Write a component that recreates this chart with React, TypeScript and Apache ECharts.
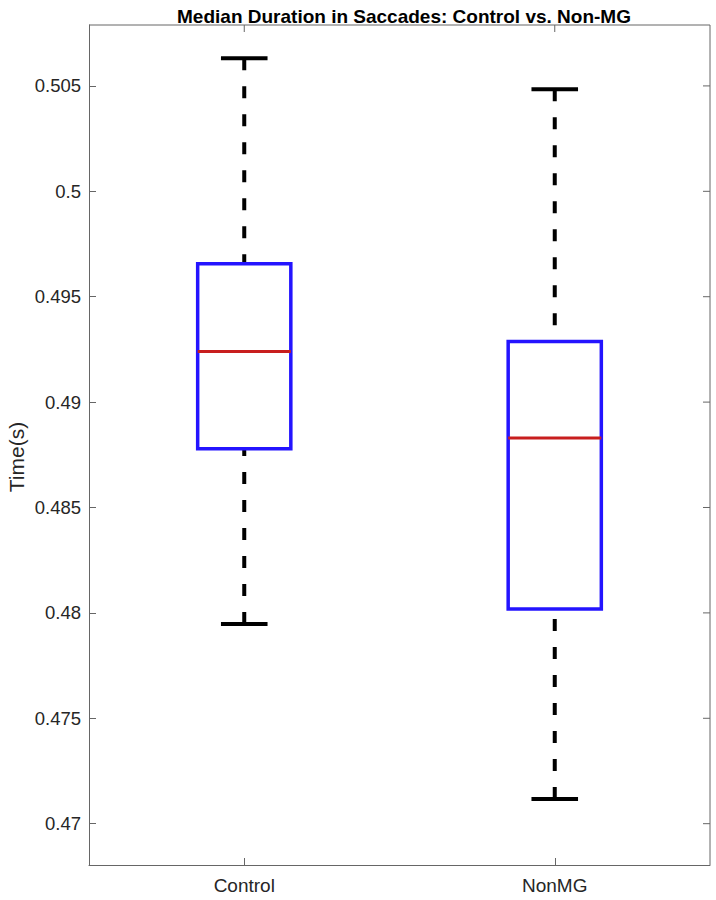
import React, { useEffect, useRef } from "react";
import * as echarts from "echarts";

// Box statistics per group: [lower whisker, Q1, median, Q3, upper whisker]
const categories = ["Control", "NonMG"];
const lowerWhisker = [0.47947, 0.47117];
const q1 = [0.48779, 0.48018];
const median = [0.4924, 0.4883];
const q3 = [0.49656, 0.49287];
const upperWhisker = [0.50631, 0.50484];

const yTicks = [0.47, 0.475, 0.48, 0.485, 0.49, 0.495, 0.5, 0.505];
const yMin = 0.46804;
const yMax = 0.50789;

const FONT = "Arial, 'Liberation Sans', Helvetica, sans-serif";
const AXIS_GREY = "#666666";
const TEXT_GREY = "#262626";

export default function App() {
  const ref = useRef<HTMLDivElement>(null);

  useEffect(() => {
    if (!ref.current) return;
    const chart = echarts.init(ref.current, null, { renderer: "svg" });

    const data = categories.map((_, i) => [
      i,
      lowerWhisker[i],
      q1[i],
      median[i],
      q3[i],
      upperWhisker[i],
    ]);

    const renderItem = (params: any, api: any) => {
      const idx = api.value(0);
      const lo = api.coord([idx, api.value(1)]);
      const b1 = api.coord([idx, api.value(2)]);
      const md = api.coord([idx, api.value(3)]);
      const b3 = api.coord([idx, api.value(4)]);
      const hi = api.coord([idx, api.value(5)]);
      const band = api.size([1, 0])[0];
      const cx = lo[0];
      const boxHalf = band * 0.15;
      const capHalf = band * 0.075;
      const whiskerStyle = {
        stroke: "#000",
        lineWidth: 4,
        lineDash: [12, 16],
      };
      const capStyle = { stroke: "#000", lineWidth: 4 };
      return {
        type: "group",
        children: [
          {
            type: "line",
            shape: { x1: cx, y1: hi[1], x2: cx, y2: b3[1] },
            style: whiskerStyle,
          },
          {
            type: "line",
            shape: { x1: cx, y1: lo[1], x2: cx, y2: b1[1] },
            style: whiskerStyle,
          },
          {
            type: "line",
            shape: { x1: cx - capHalf, y1: hi[1], x2: cx + capHalf, y2: hi[1] },
            style: capStyle,
          },
          {
            type: "line",
            shape: { x1: cx - capHalf, y1: lo[1], x2: cx + capHalf, y2: lo[1] },
            style: capStyle,
          },
          {
            type: "rect",
            shape: {
              x: cx - boxHalf,
              y: b3[1],
              width: boxHalf * 2,
              height: b1[1] - b3[1],
            },
            style: { fill: "none", stroke: "#2414ff", lineWidth: 3.5 },
          },
          {
            type: "line",
            shape: { x1: cx - boxHalf, y1: md[1], x2: cx + boxHalf, y2: md[1] },
            style: { stroke: "#c81e1e", lineWidth: 3 },
          },
        ],
      };
    };

    chart.setOption({
      animation: false,
      backgroundColor: "#ffffff",
      title: {
        text: "Median Duration in Saccades: Control vs. Non-MG",
        left: 399,
        top: 2,
        textAlign: "center",
        textStyle: {
          fontFamily: FONT,
          fontSize: 19,
          fontWeight: "bold",
          color: "#000",
        },
      },
      grid: { left: 89, right: 6, top: 25, bottom: 35, containLabel: false },
      xAxis: {
        type: "category",
        data: categories,
        boundaryGap: true,
        axisLine: { show: true, lineStyle: { color: AXIS_GREY, width: 1 } },
        axisTick: {
          show: true,
          alignWithLabel: true,
          inside: true,
          length: 7,
          lineStyle: { color: AXIS_GREY },
        },
        axisLabel: {
          fontFamily: FONT,
          fontSize: 19,
          color: TEXT_GREY,
          margin: 11,
        },
        splitLine: { show: false },
      },
      yAxis: {
        type: "value",
        min: yMin,
        max: yMax,
        axisLine: { show: true, lineStyle: { color: AXIS_GREY, width: 1 } },
        axisTick: {
          show: true,
          inside: true,
          length: 7,
          lineStyle: { color: AXIS_GREY },
          customValues: yTicks,
        },
        axisLabel: {
          fontFamily: FONT,
          fontSize: 18.5,
          color: TEXT_GREY,
          margin: 8,
          customValues: yTicks,
          formatter: (v: number) => String(parseFloat(v.toFixed(4))),
        },
        splitLine: { show: false },
      },
      series: [
        {
          type: "custom",
          renderItem,
          data,
          encode: { x: 0, y: [1, 2, 3, 4, 5] },
          clip: false,
          z: 5,
        },
      ],
    });

    // Top and right edges of the axes box, with mirrored inward ticks
    const leftPx = 89;
    const rightPx = chart.getWidth() - 6;
    const topPx = chart.convertToPixel({ yAxisIndex: 0 }, yMax) as number;
    const botPx = chart.convertToPixel({ yAxisIndex: 0 }, yMin) as number;
    const edge = { stroke: AXIS_GREY, lineWidth: 1 };
    const yTickEls: any[] = yTicks.map((t) => {
      const py = chart.convertToPixel({ yAxisIndex: 0 }, t) as number;
      return {
        type: "line",
        shape: { x1: rightPx - 7, y1: py, x2: rightPx, y2: py },
        style: edge,
      };
    });
    const xTickEls: any[] = categories.map((_, i) => {
      const px = chart.convertToPixel({ xAxisIndex: 0 }, i) as number;
      return {
        type: "line",
        shape: { x1: px, y1: topPx, x2: px, y2: topPx + 7 },
        style: edge,
      };
    });
    chart.setOption({
      graphic: [
        {
          type: "line",
          shape: { x1: rightPx, y1: topPx, x2: rightPx, y2: botPx },
          style: edge,
        },
        {
          type: "line",
          shape: { x1: leftPx, y1: topPx, x2: rightPx, y2: topPx },
          style: edge,
        },
        ...yTickEls,
        ...xTickEls,
        {
          type: "text",
          x: 16,
          y: 457,
          rotation: Math.PI / 2,
          style: {
            text: "Time(s)",
            fontFamily: FONT,
            fontSize: 21,
            fill: TEXT_GREY,
            textAlign: "center",
            textVerticalAlign: "middle",
          },
        },
      ],
    });

    return () => chart.dispose();
  }, []);

  return (
    <div
      ref={ref}
      style={{ position: "absolute", left: 0, top: 0, width: 716, height: 900 }}
    />
  );
}
